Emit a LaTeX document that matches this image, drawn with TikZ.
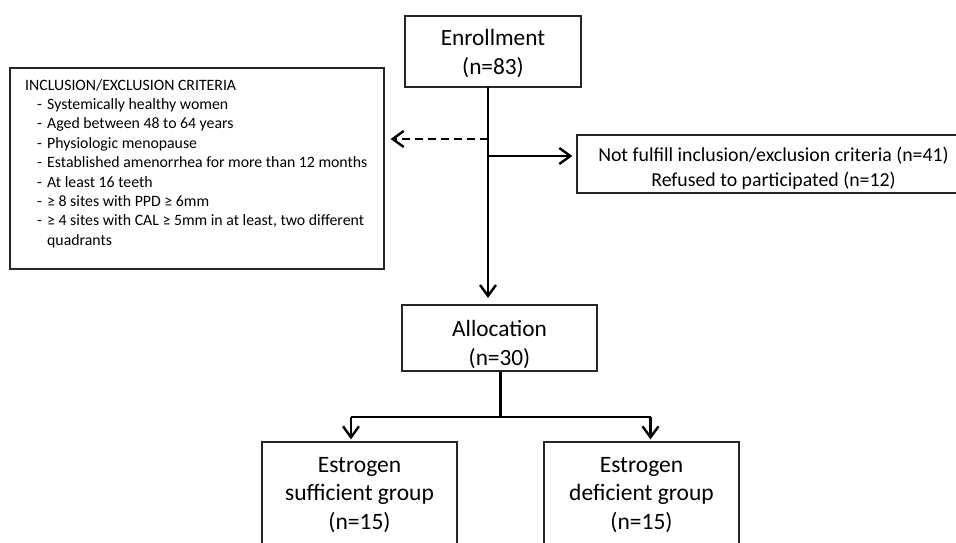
\documentclass[tikz,border=0pt]{standalone}
\usepackage{fontspec}
\setmainfont{Carlito}
\usetikzlibrary{arrows.meta}
\tikzset{
  box/.style={draw=black!85, line width=1.3pt, rectangle, inner sep=0pt},
  txt/.style={align=center, inner sep=0pt},
  conn/.style={line width=2.4pt, black},
  tip/.style={-{Straight Barb[length=11pt,width=16pt,line width=2.4pt]}},
}
\begin{document}
\begin{tikzpicture}[x=1pt,y=-1pt]
\clip (0,0) rectangle (956,542);
\fill[white] (0,0) rectangle (956,542);
% boxes
\node[box, minimum width=176pt, minimum height=71pt] (enr) at (493,51.5) {};
\node[txt, font=\fontsize{23.3}{29}\selectfont, yshift=-2.5pt] (enrt) at (enr.center) {Enrollment\\(n=83)};
\node[box, minimum width=374pt, minimum height=201pt] (crit) at (197,168.5) {};
\node[anchor=north west, inner sep=0pt, align=left, font=\fontsize{15.8}{19.4}\selectfont] (critt) at (25,79)
{INCLUSION/EXCLUSION CRITERIA\\
\hspace*{12pt}\makebox[10pt][l]{-}Systemically healthy women\\
\hspace*{12pt}\makebox[10pt][l]{-}Aged between 48 to 64 years\\
\hspace*{12pt}\makebox[10pt][l]{-}Physiologic menopause\\
\hspace*{12pt}\makebox[10pt][l]{-}Established amenorrhea for more than 12 months\\
\hspace*{12pt}\makebox[10pt][l]{-}At least 16 teeth\\
\hspace*{12pt}\makebox[10pt][l]{-}≥ 8 sites with PPD ≥ 6mm\\
\hspace*{12pt}\makebox[10pt][l]{-}≥ 4 sites with CAL ≥ 5mm in at least, two different\\
\hspace*{22pt}quadrants};
\node[box, minimum width=393pt, minimum height=58pt] (nf) at (773.5,164) {};
\node[txt, font=\fontsize{19.8}{25}\selectfont, yshift=-4pt] (nft) at (nf.center) {Not fulfill inclusion/exclusion criteria (n=41)\\Refused to participated (n=12)};
\node[box, minimum width=195pt, minimum height=66pt] (alloc) at (499.5,338) {};
\node[txt, font=\fontsize{23.3}{29}\selectfont, yshift=-6.5pt] (allt) at (alloc.center) {Allocation\\(n=30)};
\node[box, minimum width=195pt, minimum height=103pt] (suf) at (359.5,493.5) {};
\node[txt, font=\fontsize{23.5}{28.5}\selectfont, yshift=-1.5pt] (suft) at (suf.center) {Estrogen\\sufficient group\\(n=15)};
\node[box, minimum width=195pt, minimum height=103pt] (def) at (641.5,493.5) {};
\node[txt, font=\fontsize{23.5}{28.5}\selectfont, yshift=-1.5pt] (deft) at (def.center) {Estrogen\\deficient group\\(n=15)};
% coordinates
\coordinate (top) at (488,87);
\coordinate (b1) at (488,139);
\coordinate (b2) at (488,156);
\coordinate (bot) at (488,305);
\coordinate (split) at (500.5,417);
\coordinate (sl) at (351,417);
\coordinate (sr) at (650.5,417);
% connectors
\draw[conn, tip, shorten >=7pt] (top) -- (bot);
\draw[conn, tip, dashed, dash pattern=on 8pt off 5pt, shorten >=6pt] (b1) -- (b1 -| crit.east);
\draw[conn, tip, shorten >=4pt] (b2) -- (b2 -| nf.west);
\draw[conn] (alloc.south -| split) -- (split);
\draw[conn] (sl) -- (sr);
\draw[conn, tip, shorten >=2pt] (sl) -- (sl |- suf.north);
\draw[conn, tip, shorten >=2pt] (sr) -- (sr |- def.north);
\end{tikzpicture}
\end{document}
